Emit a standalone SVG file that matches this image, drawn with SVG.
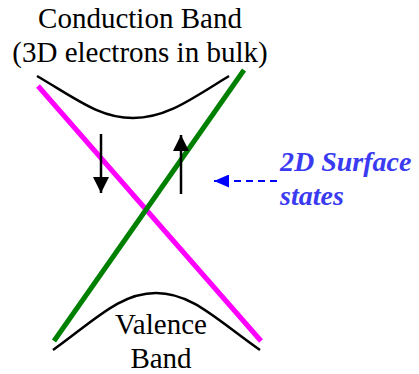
<svg xmlns="http://www.w3.org/2000/svg" width="419" height="374" viewBox="0 0 419 374">
<style>
.t{font-family:"Liberation Serif","Times New Roman",serif;font-size:29px;fill:#000;text-anchor:middle}
.b{font-family:"Liberation Serif","Times New Roman",serif;font-size:28px;font-weight:bold;font-style:italic;fill:#3a3af0}
.band{fill:none;stroke:#000;stroke-width:2.5}
.spin{stroke:#000;stroke-width:2.5}
</style>
<defs>
<marker id="ah" markerWidth="16" markerHeight="16" refX="16" refY="8" orient="auto" markerUnits="userSpaceOnUse">
<path d="M0,0 L16,8 L0,16 Z" fill="#000"/>
</marker>
<marker id="bh" markerWidth="15" markerHeight="13" refX="15" refY="6.5" orient="auto" markerUnits="userSpaceOnUse">
<path d="M0,0 L15,6.5 L0,13 Z" fill="#0000ff"/>
</marker>
</defs>
<g id="conduction">
<path class="band" d="M37,76 C78,100 100,118 133,118 C166,118 190,100 229,76"/>
<text class="t" x="140" y="28">Conduction Band</text>
<text class="t" x="140" y="62">(3D electrons in bulk)</text>
</g>
<g id="valence">
<path class="band" d="M53,350 C95,320 120,293 156,293 C192,293 217,320 260,350"/>
<text class="t" x="161" y="334">Valence</text>
<text class="t" x="161" y="368">Band</text>
</g>
<g id="surface-states">
<line x1="38" y1="86" x2="261" y2="341" stroke="#ff00ff" stroke-width="5"/>
<line x1="244" y1="70" x2="54" y2="341" stroke="#008000" stroke-width="5"/>
</g>
<g id="label">
<text class="b" x="280" y="171">2D Surface</text>
<text class="b" x="280" y="205">states</text>
</g>
<g id="connectors">
<line class="spin" x1="101" y1="134" x2="101" y2="193" marker-end="url(#ah)"/>
<line class="spin" x1="181" y1="194" x2="181" y2="135" marker-end="url(#ah)"/>
<line x1="277" y1="181" x2="214" y2="181" stroke="#0000ff" stroke-width="2" stroke-dasharray="7,5" marker-end="url(#bh)"/>
</g>
</svg>
